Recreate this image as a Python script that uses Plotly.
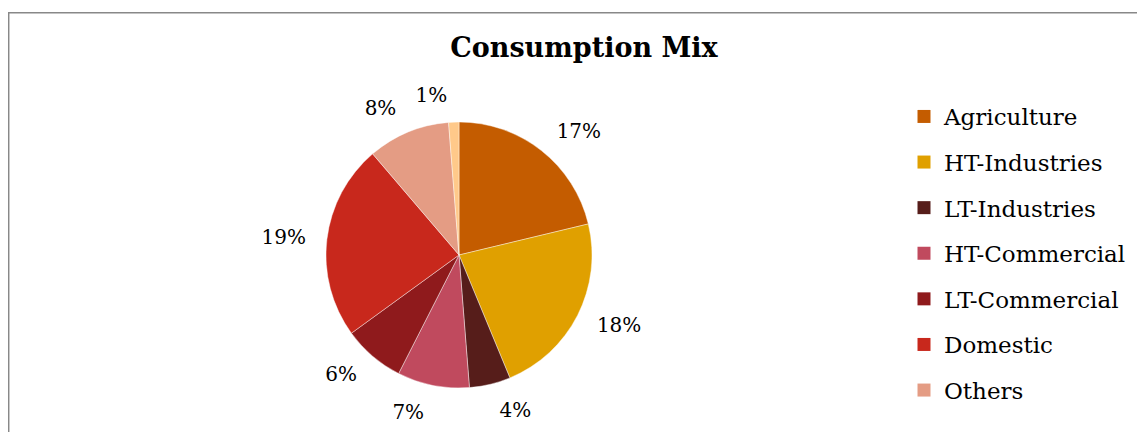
import plotly.graph_objects as go

# ---- data ----
categories = ["Agriculture", "HT-Industries", "LT-Industries", "HT-Commercial",
              "LT-Commercial", "Domestic", "Others", "Other (legend cut off)"]
values = [17, 18, 4, 7, 6, 19, 8, 1]
colors = ["#C45C00", "#E0A000", "#561D1A", "#C04A5E",
          "#8F1A1C", "#C8281C", "#E49C84", "#FFC98A"]
title_text = "Consumption Mix"

W, H = 1145, 432
FONT = "DejaVu Serif"
OFF = 8  # page body margin

cx, cy, r = 459 - OFF, 255 - OFF, 133      # pie centre / radius (px)
r_lab = 148                                 # radius of label-carrying ghost pie


def dom(rad):
    return dict(x=[(cx - rad) / W, (cx + rad) / W],
                y=[1 - (cy + rad) / H, 1 - (cy - rad) / H])


labels_txt = [f"{v}%" for v in values]
n = len(values)

fig = go.Figure()

# visible pie
fig.add_trace(go.Pie(
    labels=categories, values=values,
    textinfo="none",
    marker=dict(colors=colors, line=dict(color="rgba(255,255,255,0.6)", width=0.7)),
    sort=False, direction="clockwise", rotation=0,
    showlegend=False, domain=dom(r),
))

# transparent ghost pies carrying the outside labels a little further out
for group in ([i for i in range(n) if i != n - 1], [n - 1]):
    fig.add_trace(go.Pie(
        labels=categories, values=values,
        text=labels_txt, textinfo="text",
        textposition=["outside" if i in group else "none" for i in range(n)],
        textfont=dict(family=FONT, size=20, color="#000000"),
        marker=dict(colors=["rgba(0,0,0,0)"] * n, line=dict(width=0)),
        sort=False, direction="clockwise", rotation=0,
        showlegend=False, hoverinfo="skip", domain=dom(r_lab),
    ))

# legend entries (the last category is cut off in the reference)
for i, (cat, col) in enumerate(zip(categories, colors)):
    fig.add_trace(go.Scatter(
        x=[None], y=[None], mode="markers", name=cat,
        marker=dict(symbol="square", size=13, color=col),
        legendgroup=f"g{i}",
        showlegend=i < 7,
    ))

fig.update_layout(
    width=W, height=H,
    margin=dict(l=0, r=0, t=0, b=0),
    paper_bgcolor="white", plot_bgcolor="white",
    xaxis=dict(visible=False), yaxis=dict(visible=False),
    title=dict(text=f"<b>{title_text}</b>", x=(584 - OFF) / W, xanchor="center",
               y=1 - 39.5 / H, yanchor="middle",
               font=dict(family=FONT, size=27, color="#000000")),
    legend=dict(x=(904 - OFF) / W, xanchor="left", y=1 - 87 / H, yanchor="top",
                font=dict(family=FONT, size=23, color="#000000"),
                tracegroupgap=12.7, bgcolor="rgba(0,0,0,0)"),
    shapes=[dict(type="rect", xref="paper", yref="paper",
                 x0=0.7 / W, x1=1.05, y0=-0.05, y1=1 - 4.8 / H,
                 line=dict(color="#888888", width=1.5), fillcolor="rgba(0,0,0,0)")],
)

fig.write_html("out.html")
